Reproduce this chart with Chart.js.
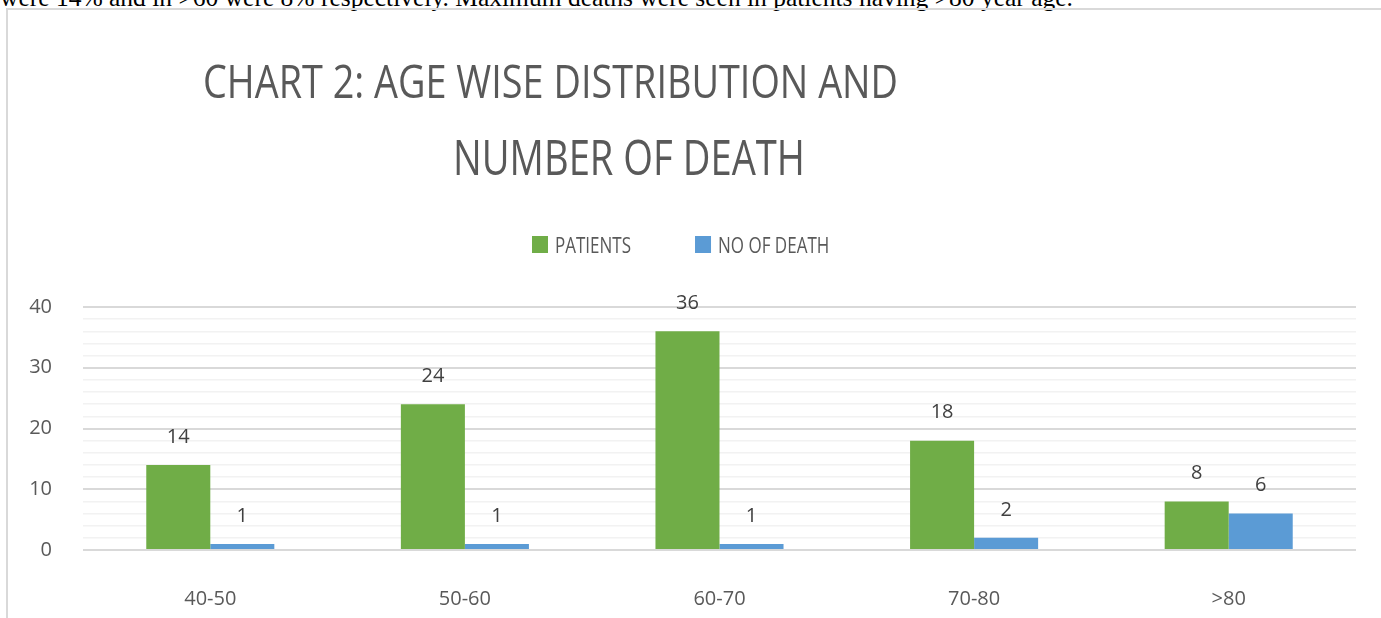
<!DOCTYPE html>
<html>
<head>
<meta charset="utf-8">
<script src="https://cdn.jsdelivr.net/npm/chart.js@4.4.1/dist/chart.umd.min.js"></script>
<style>
  html, body { margin: 0; padding: 0; background: #fff; overflow: hidden; }
  #page { position: relative; width: 1381px; height: 618px; overflow: hidden; }
  #bodytext { position: absolute; left: 0; top: -14px; font: 25.5px "Liberation Serif", "Times New Roman", serif; line-height: 24px; white-space: nowrap; color: #000; }
  #frame { position: absolute; left: 6px; top: 8px; width: 1500px; height: 700px; border: 2px solid #d9d9d9; }
  #chart { position: absolute; left: 0; top: 0; }
</style>
</head>
<body>
<div id="page">
  <div id="bodytext">were 14% and in &gt;60 were 8% respectively. Maximum deaths were seen in patients having &gt;80 year age.</div>
  <div id="frame"></div>
  <canvas id="chart" width="1381" height="618"></canvas>
</div>
<script>
// data
const ageGroups = ["40-50", "50-60", "60-70", "70-80", ">80"]
const patients = [14, 24, 36, 18, 8]
const deaths = [1, 1, 1, 2, 6]
const titleLines = ["CHART 2: AGE WISE DISTRIBUTION AND", "NUMBER OF DEATH"]
const yTicks = [0, 10, 20, 30, 40]

const green = "#70ad47"
const blue = "#5b9bd5"
const textGrey = "#595959"

// draws a string stretched into a box (the picture's text is squashed)
const drawFit = (ctx, text, left, right, capTop, base, size) => {
	ctx.save()
	ctx.font = size + 'px "Open Sans"'
	const w = ctx.measureText(text).width
	const sx = (right - left) / w
	const sy = (base - capTop) / (size * 0.714)
	ctx.translate(left, base)
	ctx.scale(sx, sy)
	ctx.textAlign = "left"
	ctx.textBaseline = "alphabetic"
	ctx.fillText(text, 0, 0)
	ctx.restore()
}

const headerPlugin = {
	id: "header",
	afterDraw(chart) {
		const ctx = chart.ctx
		ctx.fillStyle = textGrey
		drawFit(ctx, titleLines[0], 203, 898, 65, 98, 46)
		drawFit(ctx, titleLines[1], 453, 805, 140, 175, 46)

		// legend
		let x = 532
		chart.data.datasets.forEach(ds => {
			ctx.fillStyle = ds.backgroundColor
			ctx.fillRect(x, 236, 16, 17)
			ctx.save()
			ctx.font = '17px "Open Sans"'
			const w = ctx.measureText(ds.label).width
			ctx.restore()
			ctx.fillStyle = textGrey
			drawFit(ctx, ds.label, x + 23, x + 23 + w, 237, 253, 17)
			x = x + 23 + w + 64
		})
	}
}

const valueLabels = {
	id: "valueLabels",
	afterDatasetsDraw(chart) {
		const ctx = chart.ctx
		ctx.save()
		ctx.font = '20px "Open Sans"'
		ctx.fillStyle = "#404040"
		ctx.textAlign = "center"
		ctx.textBaseline = "middle"
		chart.data.datasets.forEach((ds, i) => {
			chart.getDatasetMeta(i).data.forEach((bar, j) => {
				ctx.fillText(ds.data[j], bar.x, bar.y - 28)
			})
		})
		ctx.restore()
	}
}

new Chart(document.getElementById("chart"), {
	type: "bar",
	data: {
		labels: ageGroups,
		datasets: [
			{ label: "PATIENTS", data: patients, backgroundColor: green },
			{ label: "NO OF DEATH", data: deaths, backgroundColor: blue }
		]
	},
	options: {
		responsive: false,
		animation: false,
		events: [],
		layout: { padding: { top: 307, right: 25, left: 0, bottom: 0 } },
		datasets: { bar: { categoryPercentage: 0.503, barPercentage: 1 } },
		plugins: {
			legend: { display: false },
			title: { display: false },
			tooltip: { enabled: false }
		},
		scales: {
			x: {
				grid: { display: false },
				border: { display: false },
				ticks: { color: textGrey, font: { family: "Open Sans", size: 20 }, padding: 29 },
				afterFit: s => { s.height = 68 }
			},
			y: {
				min: 0,
				max: 40,
				border: { display: false },
				grid: {
					drawTicks: false,
					color: c => c.tick.value % 10 === 0 ? "#d9d9d9" : "#f2f2f2",
					lineWidth: c => c.tick.value % 10 === 0 ? 2 : 1.5
				},
				ticks: {
					stepSize: 2,
					autoSkip: false,
					padding: 31,
					color: textGrey,
					font: { family: "Open Sans", size: 20 },
					callback: v => yTicks.includes(v) ? v : ""
				},
				afterFit: s => { s.width = 83 }
			}
		}
	},
	plugins: [headerPlugin, valueLabels]
})
</script>
</body>
</html>
